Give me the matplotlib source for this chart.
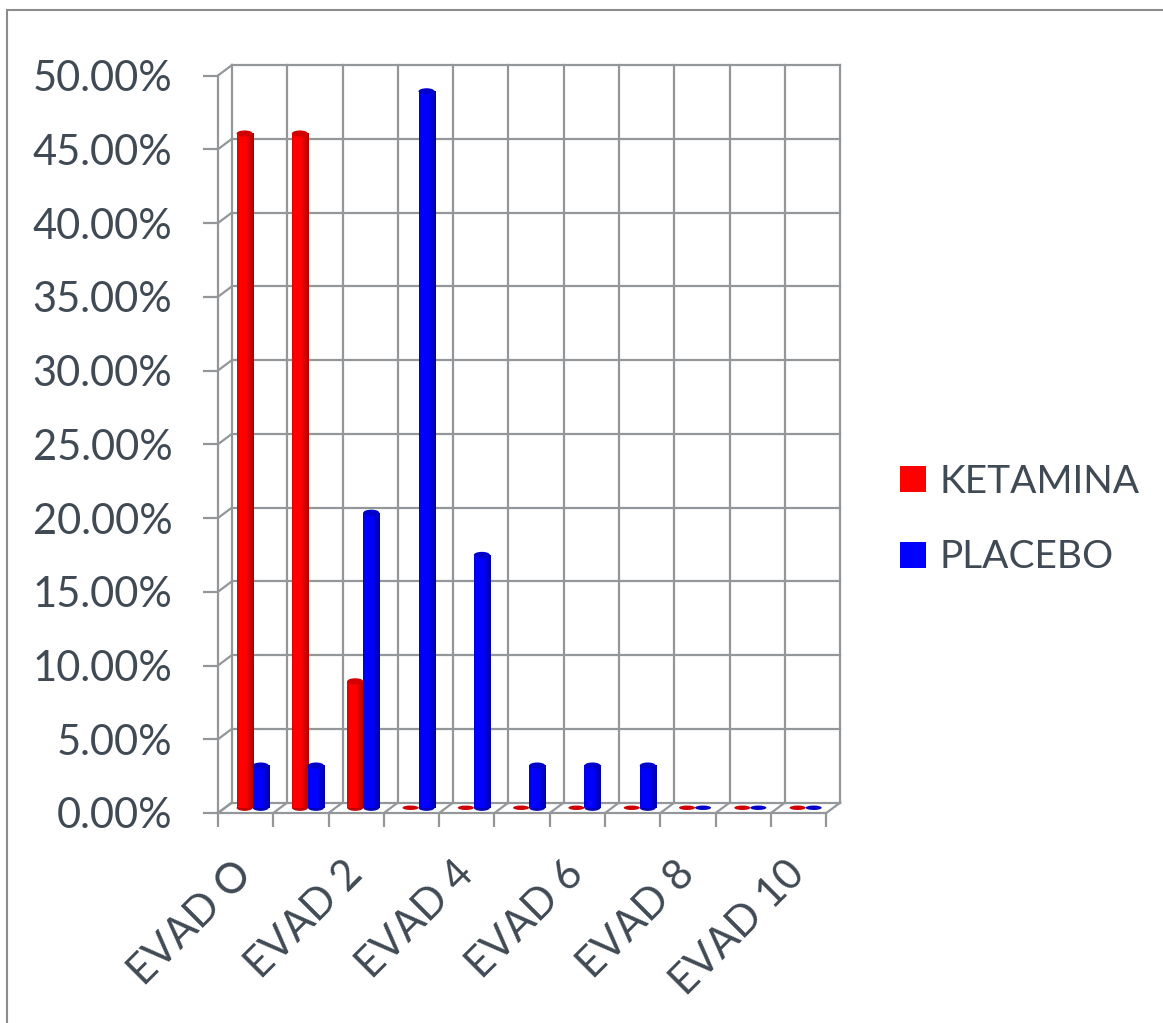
import numpy as np
import matplotlib
matplotlib.use("Agg")
import matplotlib.pyplot as plt
from matplotlib.colors import LinearSegmentedColormap
from matplotlib.patches import Ellipse, Rectangle
from matplotlib.lines import Line2D

# pain score distribution (% of patients) per EVAD level
CATEGORIES = ["EVAD O", "EVAD 1", "EVAD 2", "EVAD 3", "EVAD 4", "EVAD 5",
              "EVAD 6", "EVAD 7", "EVAD 8", "EVAD 9", "EVAD 10"]
KETAMINA = [45.71, 45.71, 8.57, 0, 0, 0, 0, 0, 0, 0, 0]
PLACEBO = [2.86, 2.86, 20.00, 48.57, 17.14, 2.86, 2.86, 2.86, 0, 0, 0]
SERIES_NAMES = ["KETAMINA", "PLACEBO"]
Y_TICKS = np.arange(0, 55, 5)

plt.rcParams["font.family"] = ["Lato", "DejaVu Sans"]

TEXT = "#404A55"
GRID = "#93979A"
LW = 1.6

# fake 3-D: back wall sits DX categories right and DY percent up from the front plane
DX, DY = 0.253, 0.71
BW = 0.29          # column width (category units)
CAP_H = 0.42       # ellipse height of the column tops (percent units)
CAT_PX, PCT_PX = 55.3, 14.75
W, H = 1163, 1023

fig = plt.figure(figsize=(W / 100, H / 100), dpi=100)
ax = fig.add_axes([218 / W, (H - 813) / H,
                   (11 + DX) * CAT_PX / W, (50 + DY) * PCT_PX / H])
ax.set_facecolor("none")
n = len(CATEGORIES)

# back wall grid
for v in Y_TICKS:
    ax.plot([DX, n + DX], [v + DY, v + DY], color=GRID, lw=LW, zorder=1, clip_on=False)
    ax.plot([0, DX], [v, v + DY], color=GRID, lw=LW, zorder=1, clip_on=False)
for i in range(n + 1):
    ax.plot([i + DX, i + DX], [DY, Y_TICKS[-1] + DY], color=GRID, lw=LW, zorder=1, clip_on=False)
    ax.plot([i, i + DX], [0, DY], color=GRID, lw=LW, zorder=1, clip_on=False)


def shade_map(base, light, dark):
    return LinearSegmentedColormap.from_list(
        "c", [(0, light), (0.15, base), (0.55, base), (1, dark)])


STYLES = [
    dict(cmap=shade_map("#FF0000", "#E00000", "#A80000"), cap="#D00000", bottom="#C00000"),
    dict(cmap=shade_map("#0000FF", "#0000E0", "#0000A0"), cap="#0000CC", bottom="#0000B8"),
]


def cylinder(x0, value, st):
    z = DY / 2
    cx = x0 + BW / 2
    if value <= 0:
        ax.add_patch(Ellipse((cx, z), BW, 0.3, facecolor=st["cap"], edgecolor="none", zorder=5))
        return
    ax.add_patch(Ellipse((cx, z), BW, CAP_H, facecolor=st["bottom"], edgecolor="none", zorder=3))
    grad = np.linspace(0, 1, 64).reshape(1, -1)
    ax.imshow(grad, cmap=st["cmap"], extent=[x0, x0 + BW, z, z + value],
              aspect="auto", origin="lower", interpolation="bilinear", zorder=4)
    ax.add_patch(Ellipse((cx, z + value), BW, CAP_H, facecolor=st["cap"],
                         edgecolor="none", zorder=6))


for i in range(n):
    cylinder(i + 0.5 - BW + DX / 2, KETAMINA[i], STYLES[0])
    cylinder(i + 0.5 + DX / 2, PLACEBO[i], STYLES[1])

ax.set_xlim(0, n + DX)
ax.set_ylim(0, Y_TICKS[-1] + DY)

# front axes
for side in ("top", "right"):
    ax.spines[side].set_visible(False)
ax.spines["left"].set_bounds(0, Y_TICKS[-1])
ax.spines["bottom"].set_bounds(0, n)
for side in ("left", "bottom"):
    ax.spines[side].set_color(GRID)
    ax.spines[side].set_linewidth(LW)

ax.set_yticks(Y_TICKS, labels=[f"{v:.2f}%" for v in Y_TICKS])
ax.tick_params(axis="y", direction="out", length=10.8, width=LW, color=GRID,
               pad=22, labelsize=30, labelcolor=TEXT)

ax.set_xticks(np.arange(n + 1), labels=[""] * (n + 1))
ax.tick_params(axis="x", which="major", direction="out", length=10, width=LW, color=GRID)
ax.set_xticks(np.arange(n) + 0.5,
              labels=[c if i % 2 == 0 else "" for i, c in enumerate(CATEGORIES)], minor=True)
ax.tick_params(axis="x", which="minor", length=0, pad=39.6, labelsize=30, labelcolor=TEXT)
for lbl in ax.get_xticklabels(minor=True):
    lbl.set_rotation(45)
    lbl.set_ha("right")
    lbl.set_va("center")
    lbl.set_rotation_mode("anchor")

handles = [Line2D([], [], marker="s", linestyle="none", markersize=19.4,
                  markerfacecolor=c, markeredgewidth=0) for c in ("#FF0000", "#0000FF")]
fig.legend(handles, SERIES_NAMES, loc="center left", bbox_to_anchor=(900 / W, 1 - 519.5 / H),
           frameon=False, fontsize=28, handlelength=0.69, handletextpad=0.33,
           labelspacing=1.02, borderpad=0, borderaxespad=0, labelcolor=TEXT)

# chart area border
fig.add_artist(Rectangle((7 / W, -0.1), 1.2, 1.1 - 10 / H, transform=fig.transFigure,
                         fill=False, edgecolor="#8C8C8C", lw=1.5))

fig.savefig("out.png", dpi=100)
